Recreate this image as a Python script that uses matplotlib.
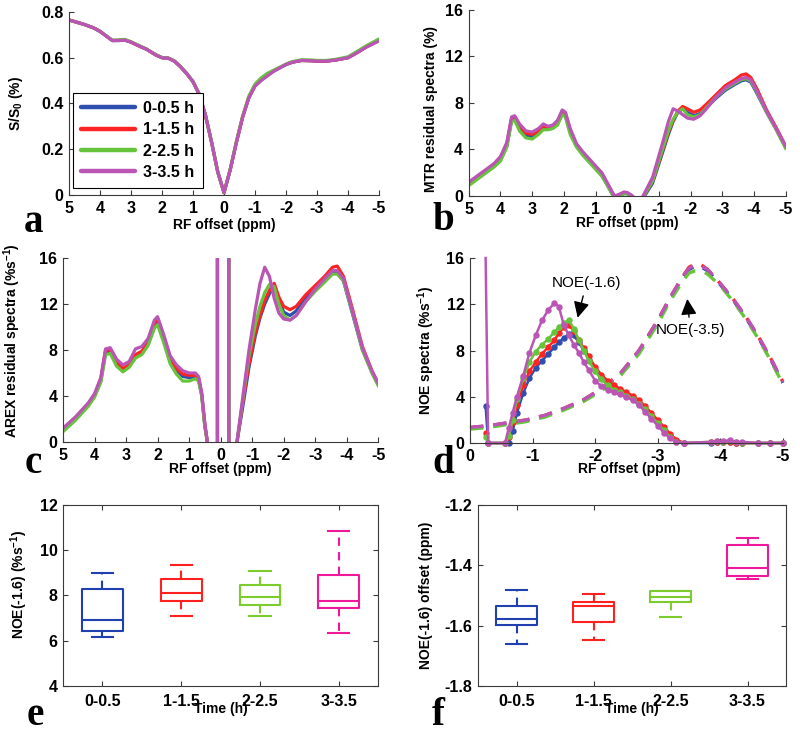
import matplotlib
matplotlib.use('Agg')
import matplotlib.pyplot as plt

plt.rcParams['font.family'] = ['Liberation Sans', 'DejaVu Sans']
plt.rcParams['axes.unicode_minus'] = False
plt.rcParams['mathtext.fontset'] = 'custom'
plt.rcParams['mathtext.rm'] = 'Liberation Sans:bold'
plt.rcParams['mathtext.it'] = 'Liberation Sans:bold:italic'
plt.rcParams['mathtext.bf'] = 'Liberation Sans:bold'

# ---- data ----
groups = ['0-0.5 h', '1-1.5 h', '2-2.5 h', '3-3.5 h']
time_labels = ['0-0.5', '1-1.5', '2-2.5', '3-3.5']
line_colors = ['#2f4fb0', '#ff2424', '#66c43c', '#bb55b5']
box_colors = ['#2040b0', '#ff2020', '#7ccc2e', '#f0189a']

# a) Z-spectra
xa = [5, 4.5, 4.2, 4, 3.8, 3.6, 3.4, 3.2, 3, 2.8, 2.5, 2.2, 2, 1.8, 1.6, 1.4, 1.2, 1, 0.8, 0.6, 0.4, 0.2,
      0, -0.2, -0.4, -0.6, -0.8, -1, -1.2, -1.4, -1.6, -1.8, -2, -2.2, -2.5, -2.8, -3, -3.3, -3.6, -4,
      -4.3, -4.6, -5]
za_blue = [0.765, 0.745, 0.730, 0.715, 0.695, 0.675, 0.675, 0.677, 0.668, 0.655, 0.637, 0.612, 0.600,
           0.598, 0.585, 0.560, 0.530, 0.495, 0.440, 0.350, 0.230, 0.100, 0.010, 0.110, 0.230, 0.340,
           0.425, 0.478, 0.503, 0.525, 0.542, 0.556, 0.570, 0.580, 0.588, 0.587, 0.585, 0.585, 0.590,
           0.600, 0.623, 0.648, 0.676]
za_red = [0.765, 0.745, 0.730, 0.715, 0.695, 0.675, 0.676, 0.678, 0.668, 0.655, 0.637, 0.612, 0.600,
          0.598, 0.585, 0.560, 0.530, 0.495, 0.440, 0.350, 0.230, 0.100, 0.010, 0.110, 0.230, 0.340,
          0.425, 0.480, 0.505, 0.528, 0.544, 0.557, 0.571, 0.581, 0.588, 0.587, 0.585, 0.585, 0.590,
          0.600, 0.623, 0.648, 0.676]
za_green = [0.765, 0.745, 0.730, 0.715, 0.696, 0.676, 0.678, 0.680, 0.670, 0.657, 0.638, 0.613, 0.601,
            0.599, 0.586, 0.561, 0.531, 0.496, 0.441, 0.350, 0.230, 0.100, 0.010, 0.112, 0.235, 0.345,
            0.432, 0.485, 0.512, 0.532, 0.545, 0.558, 0.572, 0.583, 0.591, 0.590, 0.588, 0.588, 0.593,
            0.604, 0.628, 0.653, 0.682]
za_purple = [0.765, 0.745, 0.730, 0.715, 0.695, 0.675, 0.675, 0.677, 0.668, 0.655, 0.637, 0.612, 0.600,
             0.598, 0.585, 0.560, 0.530, 0.495, 0.440, 0.350, 0.230, 0.100, 0.010, 0.110, 0.230, 0.340,
             0.425, 0.475, 0.500, 0.520, 0.540, 0.555, 0.570, 0.580, 0.588, 0.587, 0.585, 0.585, 0.590,
             0.600, 0.622, 0.647, 0.673]

# b) MTR residual spectra
xb = [5, 4.6, 4.2, 4, 3.8, 3.65, 3.55, 3.4, 3.2, 3.0, 2.8, 2.65, 2.5, 2.35, 2.2, 2.05, 1.95, 1.8, 1.6,
      1.4, 1.2, 1.0, 0.8, 0.6, 0.4, 0.25, 0.1, 0.0, -0.15, -0.35, -0.5, -0.8, -1.1, -1.3, -1.45, -1.6,
      -1.75, -1.9, -2.1, -2.3, -2.5, -2.8, -3.1, -3.4, -3.6, -3.75, -3.9, -4.1, -4.4, -4.7, -5]
mtr_blue = [1.0, 1.8, 2.6, 3.1, 4.3, 6.5, 6.6, 5.8, 5.2, 5.1, 5.4, 5.8, 5.8, 5.9, 6.2, 7.1, 6.9, 5.5,
            4.3, 3.6, 3.0, 2.4, 1.8, 0.8, -0.2, 0.0, 0.2, 0.2, -0.1, -0.5, -0.2, 1.1, 3.6, 5.3, 6.4,
            7.2, 7.5, 7.2, 6.9, 7.1, 7.6, 8.4, 9.1, 9.6, 9.9, 10.0, 9.8, 8.8, 7.2, 5.8, 4.2]
mtr_red = [1.1, 1.9, 2.7, 3.3, 4.5, 6.7, 6.8, 6.0, 5.4, 5.3, 5.6, 6.0, 5.9, 6.0, 6.4, 7.3, 7.1, 5.7,
           4.4, 3.7, 3.1, 2.5, 1.9, 0.9, -0.1, 0.1, 0.3, 0.25, 0.0, -0.5, -0.1, 1.3, 3.8, 5.5, 6.5,
           7.3, 7.7, 7.5, 7.2, 7.4, 7.9, 8.7, 9.5, 10.0, 10.4, 10.5, 10.2, 9.2, 7.4, 5.9, 4.3]
mtr_green = [0.9, 1.7, 2.5, 3.0, 4.2, 6.4, 6.5, 5.6, 5.0, 4.9, 5.3, 5.7, 5.7, 5.8, 6.1, 7.0, 6.8, 5.3,
             4.2, 3.5, 2.9, 2.3, 1.7, 0.8, -0.2, 0.0, 0.2, 0.2, -0.1, -0.5, -0.1, 1.3, 3.9, 5.6, 6.6,
             7.2, 7.5, 7.0, 6.8, 7.0, 7.6, 8.5, 9.2, 9.7, 10.0, 10.1, 9.9, 8.9, 7.2, 5.7, 4.1]
mtr_purple = [1.2, 2.0, 2.8, 3.4, 4.6, 6.8, 6.9, 6.2, 5.6, 5.5, 5.8, 6.2, 6.0, 6.1, 6.5, 7.4, 7.2, 5.8,
              4.5, 3.8, 3.2, 2.6, 2.0, 1.0, 0.0, 0.15, 0.35, 0.3, 0.05, -0.5, 0.0, 1.6, 4.4, 6.4, 7.5,
              7.3, 7.0, 6.7, 6.6, 6.9, 7.5, 8.5, 9.3, 9.8, 10.1, 10.2, 10.0, 9.0, 7.3, 5.8, 4.3]

# c) AREX residual spectra
xc = [5, 4.6, 4.2, 4, 3.8, 3.65, 3.5, 3.3, 3.1, 2.9, 2.7, 2.5, 2.3, 2.1, 2.0, 1.8, 1.6, 1.4, 1.2, 1.0,
      0.8, 0.7, 0.6, 0.5, 0.42, 0.35, 0.1, 0.1, -0.26, -0.26, -0.45, -0.52, -0.7, -0.9, -1.1, -1.25,
      -1.4, -1.55, -1.7, -1.85, -2.0, -2.2, -2.4, -2.7, -3.0, -3.3, -3.55, -3.7, -3.9, -4.2, -4.5,
      -4.8, -5]
arex_blue = [1.0, 2.0, 3.2, 4.0, 5.3, 7.8, 7.8, 6.8, 6.2, 6.6, 7.4, 7.7, 8.5, 10.0, 10.4, 8.8, 7.0,
             6.2, 5.7, 5.6, 5.6, 5.4, 4.1, 1.4, 0.0, -3, -3, 30, 30, -3, -3, 0.0, 3.0, 6.5, 9.2, 10.8,
             12.0, 12.9, 13.5, 12.4, 11.3, 11.0, 11.4, 12.5, 13.3, 14.0, 14.7, 14.7, 14.0, 11.0, 8.0,
             6.1, 5.0]
arex_red = [1.1, 2.1, 3.3, 4.1, 5.5, 8.0, 8.0, 7.0, 6.4, 6.7, 7.6, 7.9, 8.7, 10.3, 10.7, 9.0, 7.2,
            6.4, 5.9, 5.8, 5.8, 5.6, 4.2, 1.5, 0.0, -3, -3, 30, 30, -3, -3, 0.0, 3.4, 6.8, 9.5, 11.0,
            12.3, 13.2, 13.8, 12.6, 11.8, 11.5, 11.8, 12.8, 13.6, 14.4, 15.2, 15.3, 14.4, 11.4, 8.3,
            6.2, 5.1]
arex_green = [0.9, 1.9, 3.1, 3.9, 5.2, 7.6, 7.7, 6.6, 6.1, 6.5, 7.3, 7.6, 8.4, 9.9, 10.2, 8.6, 6.8,
              5.9, 5.3, 5.3, 5.5, 5.3, 4.0, 1.3, 0.0, -3, -3, 30, 30, -3, -3, 0.0, 3.6, 7.5, 10.2,
              11.8, 13.0, 13.7, 13.5, 12.0, 11.0, 10.6, 11.0, 12.2, 13.1, 13.9, 14.6, 14.6, 14.0,
              11.1, 8.0, 6.0, 4.9]
arex_purple = [1.2, 2.2, 3.4, 4.2, 5.6, 8.1, 8.2, 7.2, 6.7, 7.0, 8.1, 8.3, 9.0, 10.6, 10.9, 9.3, 7.5,
               6.7, 6.2, 6.0, 6.0, 5.7, 4.3, 1.6, 0.0, -3, -3, 30, 30, -3, -3, 0.0, 3.8, 8.0, 11.5,
               13.8, 15.2, 14.4, 12.5, 11.2, 10.7, 10.6, 11.0, 12.2, 13.3, 14.2, 14.9, 14.9, 14.2,
               11.2, 8.2, 6.2, 5.1]

# d) NOE spectra: NOE(-1.6) (solid) and NOE(-3.5) (dashed)
xd = [-0.25, -0.29, -0.56, -0.62, -0.68, -0.75, -0.85, -0.95, -1.05, -1.15, -1.25, -1.35, -1.42, -1.5,
      -1.58, -1.66, -1.74, -1.82, -1.9, -2.0, -2.1, -2.2, -2.3, -2.4, -2.5, -2.6, -2.7, -2.8, -2.9,
      -3.0, -3.1, -3.2, -3.3, -3.42, -3.85, -3.95, -4.05, -4.15, -4.25, -4.35, -4.6, -4.8, -5.0]
noe16_blue = [3.2, 0, 0, 0.0, 1.0, 2.6, 4.3, 5.6, 6.5, 7.1, 7.7, 8.3, 8.7, 9.1, 9.4, 9.3, 8.7, 8.0,
              7.2, 6.3, 5.6, 5.0, 4.6, 4.3, 4.1, 3.8, 3.4, 2.9, 2.3, 1.7, 1.1, 0.6, 0.2, 0.0, 0.0,
              0.1, 0.1, 0.1, 0.0, 0.0, 0.0, 0.0, 0.0]
noe16_red = [0.9, 0, 0, 0.5, 1.8, 3.3, 5.0, 6.2, 7.0, 7.7, 8.3, 8.9, 9.5, 10.0, 10.2, 9.7, 8.9, 8.2,
             7.5, 6.6, 5.9, 5.4, 5.0, 4.7, 4.4, 4.1, 3.7, 3.2, 2.6, 2.0, 1.4, 0.8, 0.3, 0.0, 0.05,
             0.1, 0.05, 0.1, 0.0, 0.0, 0.0, 0.0, 0.0]
noe16_green = [0.5, 0, 0, 0.6, 2.0, 3.8, 5.6, 7.0, 7.9, 8.5, 9.0, 9.6, 10.0, 10.4, 10.6, 9.9, 8.9,
               8.0, 7.1, 6.2, 5.5, 5.0, 4.6, 4.4, 4.1, 3.8, 3.4, 2.9, 2.3, 1.7, 1.1, 0.5, 0.1, 0.0,
               0.1, 0.2, 0.1, 0.2, 0.1, 0.0, 0.0, 0.0, 0.0]
noe16_purple = [16, 0, 0, 1.3, 2.6, 4.0, 5.8, 7.8, 9.3, 10.6, 11.5, 12.1, 11.8, 10.2, 9.3, 8.5, 7.8,
                7.0, 6.3, 5.4, 4.9, 4.6, 4.4, 4.2, 4.0, 3.7, 3.3, 2.7, 2.1, 1.5, 0.9, 0.4, 0.05, 0.0,
                0.1, 0.2, 0.15, 0.25, 0.1, 0.1, 0.0, 0.0, 0.0]

xd35 = [0, -0.3, -0.6, -0.9, -1.2, -1.5, -1.8, -2.1, -2.4, -2.7, -3.0, -3.2, -3.4, -3.5, -3.6, -3.7,
        -3.8, -4.0, -4.2, -4.4, -4.6, -4.8, -5.0]
noe35_blue = [1.3, 1.45, 1.7, 1.95, 2.35, 2.95, 3.65, 4.6, 5.9, 7.9, 10.5, 12.5, 14.3, 15.0, 15.3,
              15.2, 14.9, 13.7, 12.4, 10.9, 9.2, 7.3, 5.2]
noe35_red = [1.35, 1.5, 1.75, 2.0, 2.4, 3.0, 3.7, 4.7, 6.0, 8.0, 10.6, 12.6, 14.4, 15.2, 15.5, 15.4,
             15.0, 13.8, 12.5, 11.0, 9.3, 7.4, 5.3]
noe35_green = [1.2, 1.35, 1.6, 1.85, 2.25, 2.85, 3.55, 4.5, 5.8, 7.7, 10.3, 12.3, 14.0, 14.7, 14.9,
               14.9, 14.6, 13.6, 12.3, 10.8, 9.1, 7.2, 5.1]
noe35_purple = [1.35, 1.5, 1.75, 2.0, 2.4, 3.0, 3.7, 4.7, 6.0, 8.0, 10.6, 12.6, 14.4, 15.1, 15.4,
                15.3, 15.0, 13.8, 12.5, 11.0, 9.3, 7.4, 5.3]

# e) NOE(-1.6) amplitude box plot stats
e_med = [6.9, 8.1, 7.95, 7.75]
e_q1 = [6.45, 7.75, 7.6, 7.43]
e_q3 = [8.3, 8.72, 8.45, 8.9]
e_lo = [6.17, 7.1, 7.1, 6.33]
e_hi = [9.0, 9.33, 9.1, 10.83]

# f) NOE(-1.6) offset box plot stats
f_med = [-1.579, -1.535, -1.505, -1.41]
f_q1 = [-1.598, -1.587, -1.523, -1.434]
f_q3 = [-1.535, -1.520, -1.484, -1.334]
f_lo = [-1.662, -1.648, -1.572, -1.446]
f_hi = [-1.482, -1.496, -1.484, -1.310]

ppm_ticks = [5, 4, 3, 2, 1, 0, -1, -2, -3, -4, -5]
ppm_ticks_d = [0, -1, -2, -3, -4, -5]

TICK_FS = 11.5
LABEL_FS = 10


def style_ax(ax, box=False):
    for s in ax.spines.values():
        s.set_color('#3a3a3a')
        s.set_linewidth(0.8)
    if not box:
        ax.spines['top'].set_visible(False)
        ax.spines['right'].set_visible(False)
    ax.tick_params(direction='in', length=3.5, width=0.8, color='#3a3a3a',
                   labelsize=TICK_FS, top=box, right=box, pad=4)
    for lab in ax.get_xticklabels() + ax.get_yticklabels():
        lab.set_fontweight('bold')


def ppm_axis(ax, ticks):
    ax.set_xticks(ticks)
    ax.set_xticklabels([str(t) for t in ticks])


def labels(ax, xl, yl):
    ax.set_xlabel(xl, fontsize=LABEL_FS, fontweight='bold')
    ax.set_ylabel(yl, fontsize=LABEL_FS, fontweight='bold')


fig = plt.figure(figsize=(8, 7.33), dpi=100)

series_a = [za_blue, za_red, za_green, za_purple]
series_b = [mtr_blue, mtr_red, mtr_green, mtr_purple]
series_c = [arex_blue, arex_red, arex_green, arex_purple]
series_d16 = [noe16_blue, noe16_red, noe16_green, noe16_purple]
series_d35 = [noe35_blue, noe35_red, noe35_green, noe35_purple]

# ---- a ----
ax_a = fig.add_axes([0.08625, 0.734, 0.3875, 0.2497])
handles = []
for ys, c, g in zip(series_a, line_colors, groups):
    h, = ax_a.plot(xa, ys, color=c, lw=2.3, label=g, solid_capstyle='round')
    handles.append(h)
ax_a.set_xlim(5, -5)
ax_a.set_ylim(0, 0.8)
ppm_axis(ax_a, ppm_ticks)
ax_a.set_yticks([0, 0.2, 0.4, 0.6, 0.8])
ax_a.set_yticklabels(['0', '0.2', '0.4', '0.6', '0.8'])
labels(ax_a, 'RF offset (ppm)', 'S/S$_0$ (%)')
style_ax(ax_a)
leg = ax_a.legend(handles=handles, loc='lower left', bbox_to_anchor=(0.013, 0.038),
                  borderaxespad=0, handlelength=3.4, handletextpad=0.5, labelspacing=0.4,
                  borderpad=0.5, fancybox=False, framealpha=1, edgecolor='black',
                  prop={'weight': 'bold', 'size': 11.5})
leg.get_frame().set_linewidth(0.8)
for lh in leg.get_lines():
    lh.set_linewidth(3.2)

# ---- b ----
ax_b = fig.add_axes([0.586, 0.7326, 0.396, 0.2538])
for ys, c in zip(series_b, line_colors):
    ax_b.plot(xb, ys, color=c, lw=2.3)
ax_b.set_xlim(5, -5)
ax_b.set_ylim(0, 16)
ppm_axis(ax_b, ppm_ticks)
ax_b.set_yticks([0, 4, 8, 12, 16])
labels(ax_b, 'RF offset (ppm)', 'MTR residual spectra (%)')
style_ax(ax_b)

# ---- c ----
ax_c = fig.add_axes([0.07875, 0.397, 0.394, 0.251])
for ys, c in zip(series_c, line_colors):
    ax_c.plot(xc, ys, color=c, lw=2.3)
ax_c.set_xlim(5, -5)
ax_c.set_ylim(0, 16)
ppm_axis(ax_c, ppm_ticks)
ax_c.set_yticks([0, 4, 8, 12, 16])
labels(ax_c, 'RF offset (ppm)', 'AREX residual spectra (%s$^{-1}$)')
style_ax(ax_c)

# ---- d ----
ax_d = fig.add_axes([0.5875, 0.3956, 0.391, 0.2524])
for ys, c in zip(series_d35, line_colors):
    ax_d.plot(xd35, ys, color=c, lw=2.4, linestyle=(0, (4, 3)), clip_on=False)
for ys, c in zip(series_d16, line_colors):
    # the off-scale first point of the last curve is drawn as a line only
    skip = 1 if ys[0] >= 16 else 0
    ax_d.plot(xd, ys, color=c, lw=1.8, marker='o', markersize=3.6, clip_on=False,
              markevery=slice(skip, None))
ax_d.set_xlim(0, -5)
ax_d.set_ylim(0, 16)
ppm_axis(ax_d, ppm_ticks_d)
ax_d.set_yticks([0, 4, 8, 12, 16])
labels(ax_d, 'RF offset (ppm)', 'NOE spectra (%s$^{-1}$)')
arrow = dict(arrowstyle='-|>', color='black', lw=1.0, mutation_scale=24)
ax_d.annotate('NOE(-1.6)', xy=(-1.71, 10.6), xytext=(-1.86, 13.8), ha='center', va='center',
              fontsize=11, arrowprops=arrow)
ax_d.annotate('NOE(-3.5)', xy=(-3.47, 12.7), xytext=(-3.52, 9.8), ha='center', va='center',
              fontsize=11, arrowprops=arrow)
style_ax(ax_d)


# ---- e, f box plots ----
def draw_box(ax, med, q1, q3, lo, hi):
    stats = []
    for m, a, b, l, h in zip(med, q1, q3, lo, hi):
        stats.append({'med': m, 'q1': a, 'q3': b, 'whislo': l, 'whishi': h, 'fliers': []})
    parts = ax.bxp(stats, positions=[1, 2, 3, 4], widths=0.52, capwidths=0.27,
                   showfliers=False, manage_ticks=False)
    for i, c in enumerate(box_colors):
        parts['boxes'][i].set(color=c, lw=1.5)
        parts['medians'][i].set(color=c, lw=1.5)
        for k in (2 * i, 2 * i + 1):
            parts['whiskers'][k].set(color=c, lw=1.5, linestyle=(0, (4, 3)))
            parts['caps'][k].set(color=c, lw=1.5)
    ax.set_xlim(0.5, 4.5)
    ax.set_xticks([1, 2, 3, 4])
    ax.set_xticklabels(time_labels)


ax_e = fig.add_axes([0.07875, 0.0641, 0.394, 0.247])
draw_box(ax_e, e_med, e_q1, e_q3, e_lo, e_hi)
ax_e.set_ylim(4, 12)
ax_e.set_yticks([4, 6, 8, 10, 12])
labels(ax_e, 'Time (h)', 'NOE(-1.6) (%s$^{-1}$)')
style_ax(ax_e, box=True)
ax_e.tick_params(axis='x', pad=6)

ax_f = fig.add_axes([0.5975, 0.0641, 0.385, 0.247])
draw_box(ax_f, f_med, f_q1, f_q3, f_lo, f_hi)
ax_f.set_ylim(-1.8, -1.2)
ax_f.set_yticks([-1.8, -1.6, -1.4, -1.2])
ax_f.set_yticklabels(['-1.8', '-1.6', '-1.4', '-1.2'])
labels(ax_f, 'Time (h)', 'NOE(-1.6) offset (ppm)')
style_ax(ax_f, box=True)
ax_f.tick_params(axis='x', pad=6)

# label positions
ylab_pos = {ax_a: (-0.142, 0.5), ax_b: (-0.098, 0.47), ax_c: (-0.127, 0.55),
            ax_d: (-0.105, 0.5), ax_e: (-0.105, 0.56), ax_f: (-0.146, 0.5)}
xlab_pos = {ax_a: (0.5, -0.127), ax_b: (0.5, -0.11), ax_c: (0.5, -0.11),
            ax_d: (0.51, -0.103), ax_e: (0.5, -0.09), ax_f: (0.5, -0.09)}
for ax, p in ylab_pos.items():
    ax.yaxis.set_label_coords(*p)
for ax, p in xlab_pos.items():
    ax.xaxis.set_label_coords(*p)
    ax.xaxis.label.set_verticalalignment('top')

# panel letters
letters = [('a', 0.03, 0.6835), ('b', 0.54, 0.686), ('c', 0.031, 0.355),
           ('d', 0.54, 0.355), ('e', 0.033, 0.011), ('f', 0.54, 0.011)]
for t, x, y in letters:
    fig.text(x, y, t, fontsize=28, fontweight='bold', family='Liberation Serif', va='baseline')

fig.savefig('out.png', dpi=100)
